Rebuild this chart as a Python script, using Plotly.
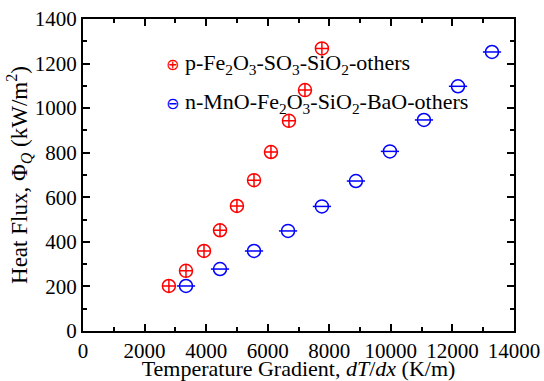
import plotly.graph_objects as go

# Data
p_x = [2790, 3345, 3930, 4450, 5000, 5555, 6105, 6690, 7210, 7760]
p_y = [202, 270, 359, 452, 561, 677, 803, 943, 1081, 1268]
n_x = [3345, 4450, 5555, 6660, 7760, 8865, 9970, 11075, 12180, 13285]
n_y = [202, 278, 359, 449, 559, 673, 806, 947, 1098, 1252]

p_name = "p-Fe<sub>2</sub>O<sub>3</sub>-SO<sub>3</sub>-SiO<sub>2</sub>-others"
n_name = "n-MnO-Fe<sub>2</sub>O<sub>3</sub>-SiO<sub>2</sub>-BaO-others"

RED = "#ff0000"
BLUE = "#0000ff"
FONT = "Liberation Serif, Times New Roman, serif"
FS = 22
TFS = 21

fig = go.Figure()
fig.add_trace(go.Scatter(x=p_x, y=p_y, mode="markers", name=p_name, showlegend=False,
                         marker=dict(symbol="circle-cross-open", size=13, color=RED,
                                     line=dict(width=1.5, color=RED))))
fig.add_trace(go.Scatter(x=n_x, y=n_y, mode="markers", name=n_name, showlegend=False,
                         marker=dict(symbol="circle-open", size=13, color=BLUE,
                                     line=dict(width=1.5, color=BLUE))))
fig.add_trace(go.Scatter(x=n_x, y=n_y, mode="markers", showlegend=False, hoverinfo="skip",
                         marker=dict(symbol="line-ew-open", size=13, color=BLUE,
                                     line=dict(width=1.5, color=BLUE))))

# Legend as text annotations
fig.add_annotation(xref="paper", yref="paper", x=0.188, y=0.855, xanchor="left", yanchor="middle",
                   showarrow=False, font=dict(family=FONT, size=FS, color="black"),
                   text=f"<span style='color:{RED};font-family:DejaVu Sans;font-size:16px'>⊕</span> " + p_name)
fig.add_annotation(xref="paper", yref="paper", x=0.188, y=0.73, xanchor="left", yanchor="middle",
                   showarrow=False, font=dict(family=FONT, size=FS, color="black"),
                   text=f"<span style='color:{BLUE};font-family:DejaVu Sans;font-size:16px'>⊖</span> " + n_name)

axis_common = dict(
    showline=True, linecolor="black", linewidth=2, mirror="allticks",
    ticks="inside", ticklen=7, tickwidth=1.5, tickcolor="black",
    showgrid=False, zeroline=False, automargin=False,
    tickfont=dict(family=FONT, size=TFS, color="black"),
    minor=dict(ticks="inside", ticklen=4, tickwidth=1.5, tickcolor="black", showgrid=False),
)

fig.update_xaxes(range=[0, 14000], dtick=2000, tick0=0, minor_dtick=1000, tickformat="d",
                 title=dict(text="Temperature Gradient, <i>dT</i>/<i>dx</i> (K/m)",
                            font=dict(family=FONT, size=FS, color="black"), standoff=0),
                 **axis_common)
fig.update_yaxes(range=[0, 1400], dtick=200, tick0=0, minor_dtick=100, tickformat="d",
                 title=dict(text="Heat Flux, Φ<sub><i>Q</i></sub> (kW/m<sup>2</sup>)",
                            font=dict(family=FONT, size=23, color="black"), standoff=0),
                 **axis_common)

fig.update_layout(width=544, height=381, margin=dict(l=83, r=30, t=19, b=50),
                  paper_bgcolor="white", plot_bgcolor="white",
                  font=dict(family=FONT, color="black"))

fig.write_html("out.html")
